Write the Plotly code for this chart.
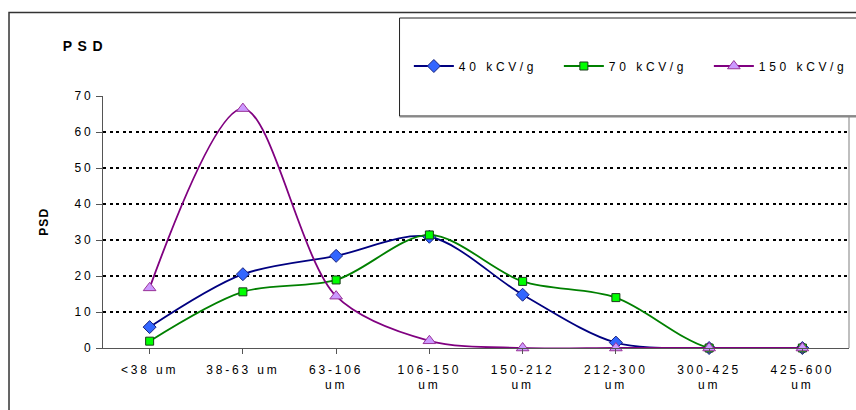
import plotly.graph_objects as go

categories = ["<38 um", "38-63 um", "63-106<br>um", "106-150<br>um", "150-212<br>um",
              "212-300<br>um", "300-425<br>um", "425-600<br>um"]
psd_40 = [5.8, 20.5, 25.6, 30.9, 14.8, 1.5, 0.0, 0.0]
psd_70 = [1.9, 15.6, 18.9, 31.4, 18.5, 14.0, 0.0, 0.0]
psd_150 = [16.7, 66.5, 14.4, 2.0, 0.0, 0.0, 0.0, 0.0]
y_ticks = [0, 10, 20, 30, 40, 50, 60, 70]

FONT = "Liberation Sans, Arial, sans-serif"

series = [
    ("40 kCV/g", psd_40, "#000080", "diamond", "#3366FF", "#1a237e", 10),
    ("70 kCV/g", psd_70, "#008000", "square", "#00FF00", "#1b3d1b", 8),
    ("150 kCV/g", psd_150, "#800080", "triangle-up", "#CC99FF", "#993399", 11),
]

fig = go.Figure()
xs = list(range(len(categories)))
for name, vals, lc, sym, fc, oc, sz in series:
    fig.add_trace(go.Scatter(
        x=xs, y=vals, name=name, mode="lines+markers",
        line=dict(color=lc, width=1.8, shape="spline", smoothing=0.9),
        marker=dict(symbol=sym, size=sz, color=fc, line=dict(color=oc, width=1)),
        cliponaxis=False,
    ))

fig.update_layout(
    width=856, height=410,
    margin=dict(l=103, r=7, t=96, b=62, autoexpand=False),
    paper_bgcolor="white", plot_bgcolor="white",
    font=dict(family=FONT, size=12, color="black"),
    showlegend=True,
    legend=dict(orientation="h", x=0.41, y=1.119, xanchor="left", yanchor="middle",
                bgcolor="rgba(0,0,0,0)", borderwidth=0, font=dict(size=12),
                entrywidth=95, entrywidthmode="pixels", itemwidth=40),
    xaxis=dict(
        tickmode="array", tickvals=xs, ticktext=categories,
        range=[-0.5, len(categories) - 0.5],
        tickson="boundaries", ticks="outside", ticklen=5, tickcolor="#555",
        showline=True, linecolor="#555", linewidth=1.2,
        showgrid=False, zeroline=False, ticklabelstandoff=5,
        tickfont=dict(size=12),
    ),
    yaxis=dict(
        range=[0, 70], tickvals=y_ticks, ticks="outside", ticklen=6, tickcolor="#555",
        showline=True, linecolor="#555", linewidth=1.2,
        showgrid=True, gridcolor="black", gridwidth=2, griddash="3px,3.5px",
        zeroline=False, tickfont=dict(size=12),
    ),
    shapes=[
        dict(type="rect", xref="paper", yref="paper", x0=-0.126, x1=1.012, y0=-0.254, y1=1.331,
             line=dict(color="#333", width=1.5), layer="below"),
        dict(type="line", xref="paper", yref="paper", x0=1, x1=1, y0=0, y1=0.9206,
             line=dict(color="#aaa", width=1.5)),
        dict(type="rect", xref="paper", yref="paper", x0=0.3975, x1=1.012, y0=0.9206, y1=1.3095,
             line=dict(color="#222", width=1), fillcolor="white", layer="above"),
        dict(type="line", xref="paper", yref="paper", x0=0.3975, x1=1.012, y0=0.918, y1=0.918,
             line=dict(color="#888", width=1.5), layer="above"),
    ],
    annotations=[
        dict(text="<b>PSD</b>", xref="paper", yref="paper", x=-0.0456, y=1.2,
             xanchor="left", yanchor="middle", showarrow=False, font=dict(size=14)),
        dict(text="<b>PSD</b>", xref="paper", yref="paper", x=-0.079, y=0.5,
             xanchor="center", yanchor="middle", showarrow=False, textangle=-90,
             font=dict(size=12)),
    ],
)

post = """
var s=document.createElement('style');
s.innerHTML='body{margin:0;} .xtick text, .ytick text {letter-spacing:2.8px;} .legendtext {letter-spacing:3.6px;} g.annotation[data-index="0"] .annotation-text {letter-spacing:5.5px;} g.annotation[data-index="1"] .annotation-text {letter-spacing:1.2px;}';
document.head.appendChild(s);
"""
fig.write_html("out.html", post_script=post, config={"displayModeBar": False})
